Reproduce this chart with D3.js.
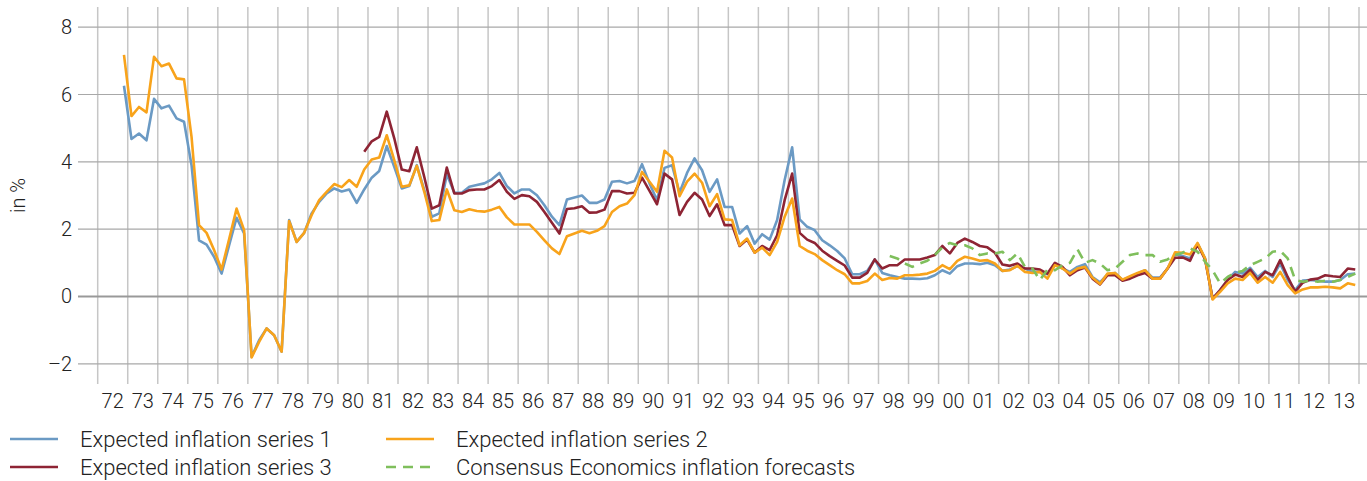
<!DOCTYPE html>
<html>
<head>
<meta charset="utf-8">
<script src="https://cdn.jsdelivr.net/npm/d3@7"></script>
<style>
  body { margin: 0; background: #fff; }
  svg text { font-family: Roboto, "Liberation Sans", sans-serif; font-weight: 300; fill: #222; }
</style>
</head>
<body>
<svg width="1367" height="481"></svg>
<script>
// quarterly values, series start given as [year, quarter]
const series1Start = [1972, 4];
const series1 = [
  6.26,
  4.68, 4.84, 4.64, 5.87,
  5.59, 5.67, 5.29, 5.19,
  3.90, 1.67, 1.54, 1.18,
  0.68, 1.52, 2.34, 1.87,
  -1.79, -1.30, -0.95, -1.15,
  -1.64, 2.27, 1.62, 1.89,
  2.47, 2.81, 3.06, 3.21,
  3.12, 3.18, 2.78, 3.18,
  3.53, 3.73, 4.47, 3.85,
  3.21, 3.28, 3.90, 3.16,
  2.37, 2.47, 3.63, 3.08,
  3.08, 3.26, 3.31, 3.36,
  3.48, 3.67, 3.28, 3.06,
  3.18, 3.18, 3.01, 2.71,
  2.37, 2.12, 2.88, 2.94,
  3.00, 2.78, 2.78, 2.88,
  3.41, 3.43, 3.36, 3.43,
  3.93, 3.36, 2.86, 3.82,
  3.90, 3.08, 3.67, 4.10,
  3.75, 3.11, 3.48, 2.66,
  2.66, 1.87, 2.09, 1.57,
  1.85, 1.69, 2.27, 3.46,
  4.43, 2.29, 2.07, 1.97,
  1.67, 1.52, 1.35, 1.13,
  0.66, 0.66, 0.76, 1.10,
  0.70, 0.63, 0.58, 0.53,
  0.53, 0.52, 0.54, 0.63,
  0.78, 0.68, 0.90, 0.98,
  0.98, 0.96, 1.00, 0.93,
  0.76, 0.80, 0.90, 0.83,
  0.73, 0.73, 0.66, 0.98,
  0.83, 0.73, 0.88, 0.96,
  0.58, 0.42, 0.66, 0.70,
  0.49, 0.58, 0.68, 0.78,
  0.56, 0.56, 0.83, 1.26,
  1.20, 1.13, 1.57, 1.13,
  -0.06, 0.19, 0.49, 0.73,
  0.68, 0.85, 0.58, 0.76,
  0.58, 0.98, 0.49, 0.19,
  0.47, 0.49, 0.47, 0.44,
  0.44, 0.49, 0.66, 0.68
];

const series2Start = [1972, 4];
const series2 = [
  7.18,
  5.36, 5.63, 5.47, 7.12,
  6.84, 6.92, 6.48, 6.45,
  4.74, 2.12, 1.89, 1.38,
  0.80, 1.70, 2.61, 1.97,
  -1.81, -1.35, -0.95, -1.15,
  -1.64, 2.24, 1.62, 1.89,
  2.42, 2.86, 3.11, 3.34,
  3.25, 3.46, 3.26, 3.77,
  4.07, 4.13, 4.79, 4.05,
  3.26, 3.30, 3.88, 3.11,
  2.24, 2.27, 3.18, 2.56,
  2.51, 2.59, 2.54, 2.52,
  2.58, 2.66, 2.35, 2.14,
  2.14, 2.14, 1.92, 1.67,
  1.43, 1.26, 1.79, 1.87,
  1.95, 1.88, 1.95, 2.09,
  2.51, 2.68, 2.76, 3.01,
  3.70, 3.41, 3.11, 4.33,
  4.13, 2.98, 3.41, 3.65,
  3.38, 2.68, 3.04, 2.29,
  2.27, 1.52, 1.72, 1.30,
  1.45, 1.23, 1.62, 2.37,
  2.91, 1.50, 1.36, 1.26,
  1.08, 0.93, 0.78, 0.66,
  0.39, 0.39, 0.46, 0.68,
  0.49, 0.55, 0.53, 0.63,
  0.63, 0.65, 0.68, 0.76,
  0.93, 0.81, 1.06, 1.18,
  1.13, 1.06, 1.08, 0.98,
  0.76, 0.78, 0.91, 0.73,
  0.70, 0.73, 0.53, 0.93,
  0.83, 0.68, 0.83, 0.88,
  0.56, 0.37, 0.68, 0.70,
  0.50, 0.60, 0.70, 0.78,
  0.53, 0.53, 0.83, 1.31,
  1.30, 1.25, 1.59, 1.13,
  -0.09, 0.14, 0.39, 0.53,
  0.49, 0.70, 0.41, 0.58,
  0.41, 0.73, 0.34, 0.09,
  0.21, 0.27, 0.27, 0.29,
  0.27, 0.24, 0.39, 0.34
];

const series3Start = [1980, 4];
const series3 = [
  4.30,
  4.61, 4.74, 5.49, 4.70,
  3.77, 3.72, 4.43, 3.55,
  2.61, 2.71, 3.83, 3.06,
  3.06, 3.16, 3.18, 3.18,
  3.28, 3.46, 3.11, 2.90,
  3.01, 2.98, 2.81, 2.51,
  2.19, 1.87, 2.60, 2.62,
  2.68, 2.49, 2.50, 2.58,
  3.13, 3.13, 3.06, 3.08,
  3.53, 3.14, 2.74, 3.65,
  3.48, 2.42, 2.81, 3.08,
  2.88, 2.39, 2.74, 2.12,
  2.12, 1.50, 1.69, 1.30,
  1.50, 1.38, 1.82, 2.86,
  3.65, 1.89, 1.69, 1.59,
  1.36, 1.20, 1.06, 0.92,
  0.56, 0.56, 0.70, 1.10,
  0.83, 0.93, 0.93, 1.10,
  1.10, 1.10, 1.16, 1.23,
  1.50, 1.28, 1.59, 1.72,
  1.62, 1.50, 1.46, 1.30,
  0.95, 0.91, 0.98, 0.83,
  0.83, 0.80, 0.68, 1.00,
  0.88, 0.63, 0.78, 0.86,
  0.53, 0.36, 0.63, 0.63,
  0.47, 0.53, 0.63, 0.70,
  0.53, 0.53, 0.83, 1.15,
  1.16, 1.06, 1.55, 1.10,
  -0.06, 0.19, 0.49, 0.65,
  0.58, 0.80, 0.49, 0.73,
  0.63, 1.08, 0.58, 0.14,
  0.41, 0.50, 0.53, 0.63,
  0.60, 0.58, 0.83, 0.80
];

const consensusStart = [1998, 2];
const consensus = [
  1.20, 1.13, 0.98,
  0.88, 0.98, 1.06, 1.23,
  1.46, 1.59, 1.52, 1.52,
  1.43, 1.23, 1.28, 1.28,
  1.33, 1.08, 1.28, 0.88,
  0.83, 0.49, 0.80, 0.78,
  0.93, 1.00, 1.40, 1.00,
  1.08, 0.98, 0.78, 0.83,
  1.03, 1.23, 1.28, 1.23,
  1.23, 1.03, 1.10, 1.23,
  1.30, 1.43, 1.33, 1.03,
  0.78, 0.39, 0.58, 0.70,
  0.76, 0.93, 1.03, 1.13,
  1.33, 1.36, 1.13, 0.49,
  0.44, 0.47, 0.44, 0.47,
  0.44, 0.49, 0.58, 0.68
];

const years = d3.range(1972, 2014);
const yTicks = [-2, 0, 2, 4, 6, 8];

const legendItems = [
  { name: "Expected inflation series 1", color: "#6b9ac4", dash: null, col: 0, row: 0 },
  { name: "Expected inflation series 2", color: "#f8a31b", dash: null, col: 1, row: 0 },
  { name: "Expected inflation series 3", color: "#8e2434", dash: null, col: 0, row: 1 },
  { name: "Consensus Economics inflation forecasts", color: "#7fbf5c", dash: "10,7", col: 1, row: 1 }
];

const svg = d3.select("svg");

const x = d3.scaleLinear().domain([1972, 2014]).range([97.7, 1359]);
const y = d3.scaleLinear().domain([-2.6, 8.6]).range([384, 7]);

// turn a list of quarterly values into points
function toPoints(values, start) {
  return values.map((v, i) => {
    const q = start[1] - 1 + i;
    return { t: start[0] + (q + 0.5) / 4, v: v };
  });
}

// vertical year grid
svg.append("g")
  .selectAll("line")
  .data(d3.range(1972, 2015))
  .enter().append("line")
  .attr("x1", d => x(d)).attr("x2", d => x(d))
  .attr("y1", y(8.6)).attr("y2", y(-2.6))
  .attr("stroke", "#c6c6c6")
  .attr("stroke-width", 1.5);

// horizontal grid
svg.append("g")
  .selectAll("line")
  .data(yTicks)
  .enter().append("line")
  .attr("x1", 78).attr("x2", 1367)
  .attr("y1", d => y(d)).attr("y2", d => y(d))
  .attr("stroke", d => d === 0 ? "#999" : "#a8a8a8")
  .attr("stroke-width", d => d === 0 ? 2 : 1.2);

// y tick labels
svg.append("g")
  .selectAll("text")
  .data(yTicks)
  .enter().append("text")
  .attr("x", 72)
  .attr("y", d => y(d))
  .attr("dy", "0.35em")
  .attr("text-anchor", "end")
  .attr("font-size", "20px")
  .text(d => d < 0 ? "\u2013" + Math.abs(d) : d);

svg.append("text")
  .attr("transform", "translate(25," + y(3) + ") rotate(-90)")
  .attr("text-anchor", "middle")
  .attr("font-size", "20px")
  .text("in %");

// x tick labels, centred on the year
svg.append("g")
  .selectAll("text")
  .data(years)
  .enter().append("text")
  .attr("x", d => x(d + 0.5))
  .attr("y", 401)
  .attr("dy", "0.35em")
  .attr("text-anchor", "middle")
  .attr("font-size", "20px")
  .text(d => d3.format("02")(d % 100));

const line = d3.line()
  .x(d => x(d.t))
  .y(d => y(d.v));

const lines = [
  { pts: toPoints(series1, series1Start), item: legendItems[0] },
  { pts: toPoints(series3, series3Start), item: legendItems[2] },
  { pts: toPoints(series2, series2Start), item: legendItems[1] },
  { pts: toPoints(consensus, consensusStart), item: legendItems[3] }
];

svg.append("g")
  .selectAll("path")
  .data(lines)
  .enter().append("path")
  .attr("d", d => line(d.pts))
  .attr("fill", "none")
  .attr("stroke", d => d.item.color)
  .attr("stroke-width", 2.6)
  .attr("stroke-linejoin", "round")
  .attr("stroke-dasharray", d => d.item.dash);

// legend
const legend = svg.append("g")
  .selectAll("g")
  .data(legendItems)
  .enter().append("g")
  .attr("transform", d => "translate(" + (d.col ? 386 : 10) + "," + (439 + d.row * 28) + ")");

legend.append("line")
  .attr("x1", 0).attr("x2", 48)
  .attr("stroke", d => d.color)
  .attr("stroke-width", 2.6)
  .attr("stroke-dasharray", d => d.dash);

legend.append("text")
  .attr("x", 70)
  .attr("dy", "0.35em")
  .attr("font-size", "22px")
  .text(d => d.name);
</script>
</body>
</html>
